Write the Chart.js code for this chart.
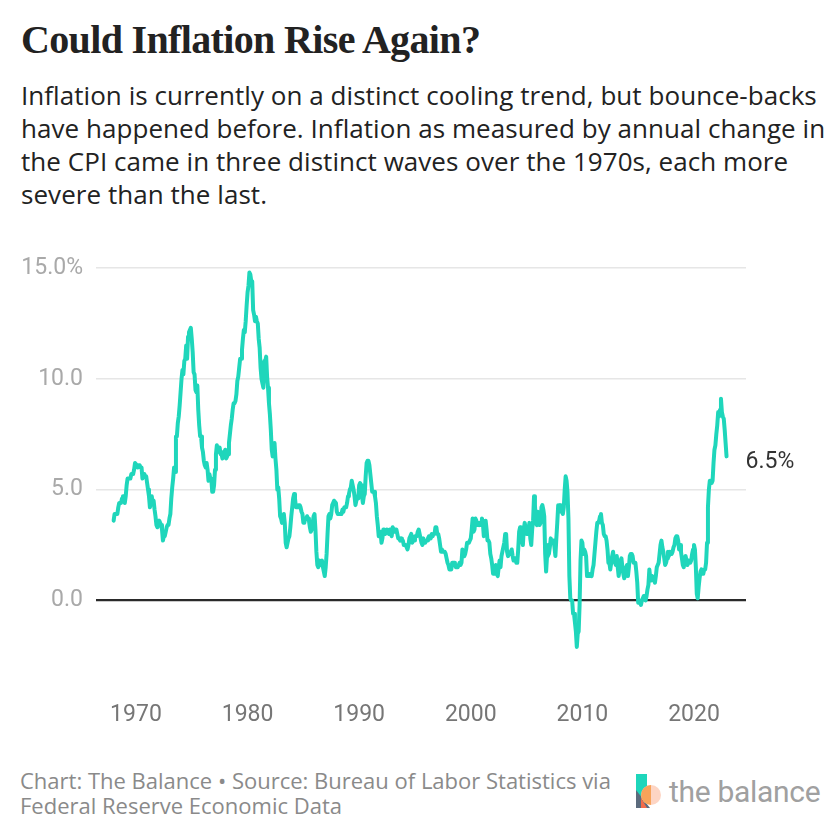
<!DOCTYPE html>
<html>
<head>
<meta charset="utf-8">
<script src="https://cdn.jsdelivr.net/npm/chart.js@4.4.1/dist/chart.umd.min.js"></script>
<style>
  html, body { margin: 0; padding: 0; background: #ffffff; }
  body { width: 840px; height: 840px; position: relative; overflow: hidden; font-family: "Open Sans", Roboto, sans-serif; }
  #title { position: absolute; left: 21px; top: 16px; font-family: "Liberation Serif", serif; font-weight: bold; font-size: 40px; line-height: 48px; color: #222; white-space: nowrap; letter-spacing: -0.65px; }
  #subtitle { position: absolute; left: 21px; top: 79px; font-size: 26px; line-height: 33px; color: #222; white-space: nowrap; letter-spacing: 0.05px; }
  #chartBox { position: absolute; left: 0; top: 240px; width: 840px; height: 488px; }
  #footer { position: absolute; left: 20px; top: 768px; font-size: 22px; line-height: 25px; color: #8a8a8a; white-space: nowrap; }
  #logo { position: absolute; left: 634px; top: 772px; height: 40px; }
  #logoText { position: absolute; left: 669px; top: 774px; font-family: Roboto, sans-serif; font-size: 30px; line-height: 36px; color: #a0a0a0; white-space: nowrap; letter-spacing: -0.3px; }
</style>
</head>
<body>
<div id="title">Could Inflation Rise Again?</div>
<div id="subtitle">Inflation is currently on a distinct cooling trend, but bounce-backs<br>have happened before. Inflation as measured by annual change in<br>the CPI came in three distinct waves over the 1970s, each more<br>severe than the last.</div>
<div id="chartBox"><canvas id="chart" width="840" height="488"></canvas></div>
<div id="footer">Chart: The Balance • Source: Bureau of Labor Statistics via<br>Federal Reserve Economic Data</div>
<svg id="logo" width="30" height="40" viewBox="0 0 30 40">
  <rect x="2" y="2" width="11" height="32" fill="#1dd6bb"/>
  <polygon points="2,18 2,36 16,36" fill="#5b6b7d"/>
  <circle cx="17" cy="23" r="10" fill="#fdd5c4"/>
  <path d="M17,13 A10,10 0 0 0 17,33 Z" fill="#f7a35a"/>
  <polygon points="7,26 13,36 7,36" fill="#f26b4a"/>
</svg>
<div id="logoText">the balance</div>
<script>
// Annual CPI change, % (monthly values, Jan..Dec)
const startYear = 1968;
const cpi1968to1969 = [
  3.6,3.9,3.9,3.9,3.9,4.2,4.4,4.4,4.4,4.6,4.7,4.7,
  4.4,4.7,5.2,5.5,5.5,5.5,5.5,5.7,5.7,5.7,5.9,6.2
];
const cpi1970s = [
  6.2,6.1,6.0,6.1,6.1,6.0,6.0,5.5,5.7,5.7,5.6,5.6,
  5.3,5.0,4.7,4.2,4.4,4.7,4.4,4.5,4.1,3.8,3.4,3.3,
  3.4,3.6,3.5,3.4,3.2,2.7,2.9,2.9,3.1,3.3,3.4,3.4,
  3.7,3.9,4.6,5.1,5.5,6.0,5.8,7.4,7.4,8.0,8.3,8.8,
  9.4,10.0,10.4,10.2,10.8,10.9,11.5,10.9,11.9,12.1,12.2,12.3,
  11.8,11.2,10.3,10.2,9.5,9.4,9.7,8.6,7.9,7.4,7.4,6.9,
  6.7,6.3,6.1,6.0,6.2,5.9,5.4,5.7,5.5,5.5,4.9,4.9,
  5.2,5.9,6.6,7.0,6.7,6.9,6.9,6.6,6.6,6.4,6.7,6.6,
  6.8,6.4,6.5,6.6,7.1,7.5,7.9,8.2,8.6,8.9,8.9,9.0,
  9.3,9.9,10.1,10.5,10.9,10.9,11.3,11.8,12.2,12.1,12.6,13.3
];
const cpi1980s = [
  13.9,14.2,14.8,14.7,14.4,14.4,13.1,12.9,12.6,12.8,12.6,12.5,
  11.8,11.4,10.5,10.0,9.8,9.6,10.8,10.8,11.0,10.1,9.6,8.9,
  8.4,7.7,6.8,6.5,6.7,7.1,6.4,5.9,5.0,5.1,4.6,3.8,
  3.7,3.5,3.6,3.9,3.5,2.6,2.4,2.6,2.8,2.9,3.3,3.8,
  4.2,4.6,4.8,4.6,4.2,4.2,4.2,4.3,4.3,4.2,4.0,3.9,
  3.5,3.5,3.7,3.7,3.8,3.7,3.6,3.3,3.1,3.2,3.5,3.8,
  3.9,3.2,2.2,1.6,1.5,1.8,1.6,1.6,1.8,1.5,1.3,1.1,
  1.5,2.1,3.0,3.8,3.9,3.7,3.9,4.3,4.4,4.5,4.5,4.4,
  4.0,3.9,3.9,3.9,3.9,3.9,4.1,4.0,4.2,4.2,4.2,4.4,
  4.7,4.8,5.0,5.1,5.4,5.2,5.0,4.7,4.3,4.5,4.7,4.6
];
const cpi1990s = [
  5.2,5.3,5.2,4.7,4.4,4.7,4.8,5.6,6.2,6.3,6.3,6.1,
  5.7,5.3,4.9,4.9,4.9,4.7,4.4,3.8,3.4,2.9,3.0,3.1,
  2.6,2.8,3.2,3.2,3.0,3.1,3.2,3.1,3.0,3.2,3.0,2.9,
  3.3,3.2,3.1,3.2,3.2,3.0,2.8,2.8,2.7,2.8,2.7,2.7,
  2.5,2.5,2.5,2.4,2.3,2.5,2.8,2.9,3.0,2.6,2.7,2.7,
  2.9,2.9,2.9,3.1,3.2,3.0,2.8,2.6,2.5,2.8,2.6,2.6,
  2.7,2.7,2.8,2.9,2.9,2.8,3.0,2.9,3.0,3.0,3.3,3.3,
  3.0,3.0,2.8,2.5,2.2,2.3,2.2,2.2,2.2,2.1,1.9,1.7,
  1.6,1.4,1.4,1.4,1.7,1.7,1.7,1.6,1.5,1.5,1.5,1.6,
  1.7,1.6,1.7,2.3,2.1,2.0,2.1,2.3,2.6,2.6,2.6,2.7
];
const cpi2000s = [
  2.8,3.2,3.7,3.1,3.2,3.7,3.6,3.4,3.5,3.4,3.5,3.4,
  3.7,3.5,2.9,3.3,3.6,3.2,2.7,2.7,2.6,2.1,1.9,1.6,
  1.2,1.2,1.5,1.6,1.2,1.1,1.5,1.8,1.5,2.0,2.2,2.4,
  2.6,3.0,3.0,2.2,2.0,2.1,2.1,2.2,2.3,2.0,1.8,1.9,
  1.9,1.7,1.7,2.3,3.1,3.3,3.0,2.7,2.5,3.2,3.5,3.3,
  3.0,3.0,3.1,3.5,2.8,2.5,3.2,3.6,4.7,4.3,3.5,3.4,
  4.0,3.6,3.4,3.5,4.2,4.3,4.1,3.8,2.1,1.3,2.0,2.5,
  2.1,2.4,2.8,2.6,2.7,2.7,2.4,2.0,2.8,3.5,4.3,4.1,
  4.3,4.0,4.0,3.9,4.2,5.0,5.6,5.4,4.9,3.7,1.1,0.1,
  0.0,0.0,-0.6,-0.6,-1.0,-1.4,-2.1,-1.5,-1.4,-0.2,1.8,2.7
];
const cpi2010s = [
  2.6,2.1,2.3,2.2,2.0,1.1,1.2,1.1,1.1,1.2,1.1,1.4,
  1.6,2.1,2.6,3.1,3.5,3.5,3.6,3.8,3.9,3.5,3.4,3.0,
  2.9,2.9,2.7,2.3,1.7,1.7,1.4,1.7,2.0,2.2,1.8,1.7,
  1.6,2.0,1.5,1.1,1.4,1.8,1.9,1.5,1.2,1.0,1.2,1.5,
  1.6,1.1,1.5,2.0,2.1,2.1,2.0,1.7,1.7,1.7,1.3,0.8,
  -0.1,0.0,-0.1,-0.2,0.0,0.1,0.2,0.2,0.0,0.2,0.5,0.7,
  1.4,1.0,0.9,1.1,1.0,1.0,0.8,1.1,1.5,1.6,1.7,2.1,
  2.5,2.7,2.4,2.2,1.9,1.6,1.7,1.9,2.2,2.0,2.2,2.1,
  2.1,2.2,2.4,2.5,2.8,2.9,2.9,2.7,2.3,2.5,2.2,1.9,
  1.6,1.5,1.9,2.0,1.8,1.6,1.8,1.7,1.7,1.8,2.1,2.3
];
const cpi2020s = [
  2.5,2.3,1.5,0.3,0.1,0.6,1.0,1.3,1.4,1.2,1.2,1.4,
  1.4,1.7,2.6,4.2,5.0,5.4,5.4,5.3,5.4,6.2,6.8,7.0,
  7.5,7.9,8.5,8.3,8.6,9.1,8.5,8.3,8.2,7.7,7.1,6.5
];
const yTicks = [0, 5, 10, 15];
const xTicks = [1970, 1980, 1990, 2000, 2010, 2020];
const lastLabel = "6.5%";

const allValues = [].concat(cpi1968to1969, cpi1970s, cpi1980s, cpi1990s, cpi2000s, cpi2010s, cpi2020s);
const points = allValues.map((v, i) => ({ x: startYear + Math.floor(i / 12) + (i % 12) / 12, y: v }));

const endLabelPlugin = {
  id: 'endLabel',
  afterDatasetsDraw(chart) {
    const meta = chart.getDatasetMeta(0);
    const last = meta.data[meta.data.length - 1];
    const ctx = chart.ctx;
    ctx.save();
    ctx.font = '23px Roboto, "Noto Sans", sans-serif';
    ctx.fillStyle = '#333333';
    ctx.textAlign = 'left';
    ctx.textBaseline = 'middle';
    ctx.fillText(lastLabel, last.x + 19, last.y + 6);
    ctx.restore();
  }
};

new Chart(document.getElementById('chart'), {
  type: 'line',
  data: {
    datasets: [{
      data: points,
      borderColor: '#1fd6bb',
      borderWidth: 4,
      pointRadius: 0,
      tension: 0,
      fill: false,
      borderJoinStyle: 'round',
      borderCapStyle: 'round'
    }]
  },
  options: {
    responsive: false,
    devicePixelRatio: 1,
    animation: false,
    layout: { padding: { left: 0, right: 94, top: 28, bottom: 0 } },
    plugins: { legend: { display: false }, tooltip: { enabled: false } },
    scales: {
      x: {
        type: 'linear',
        min: 1966.42,
        max: 2024.66,
        afterBuildTicks(scale) { scale.ticks = xTicks.map(v => ({ value: v })); },
        afterFit(scale) { scale.height = 50; },
        grid: { display: false, drawTicks: false },
        border: { display: false },
        ticks: {
          color: '#767676',
          padding: 23,
          maxRotation: 0,
          autoSkip: false,
          font: { family: 'Roboto, "Noto Sans", sans-serif', size: 23 },
          callback: v => String(v)
        }
      },
      y: {
        min: -3.5,
        max: 15,
        afterFit(scale) { scale.width = 96; },
        afterBuildTicks(scale) { scale.ticks = yTicks.map(v => ({ value: v })); },
        grid: {
          drawTicks: false,
          color: c => (c.tick && c.tick.value === 0) ? '#2a2a2a' : '#e6e6e6',
          lineWidth: c => (c.tick && c.tick.value === 0) ? 2.2 : 1.6
        },
        border: { display: false },
        ticks: {
          color: '#a9a9a9',
          padding: 13,
          font: { family: 'Roboto, "Noto Sans", sans-serif', size: 23 },
          callback: v => v === 15 ? '15.0%' : v.toFixed(1)
        }
      }
    }
  },
  plugins: [endLabelPlugin]
});
</script>
</body>
</html>
